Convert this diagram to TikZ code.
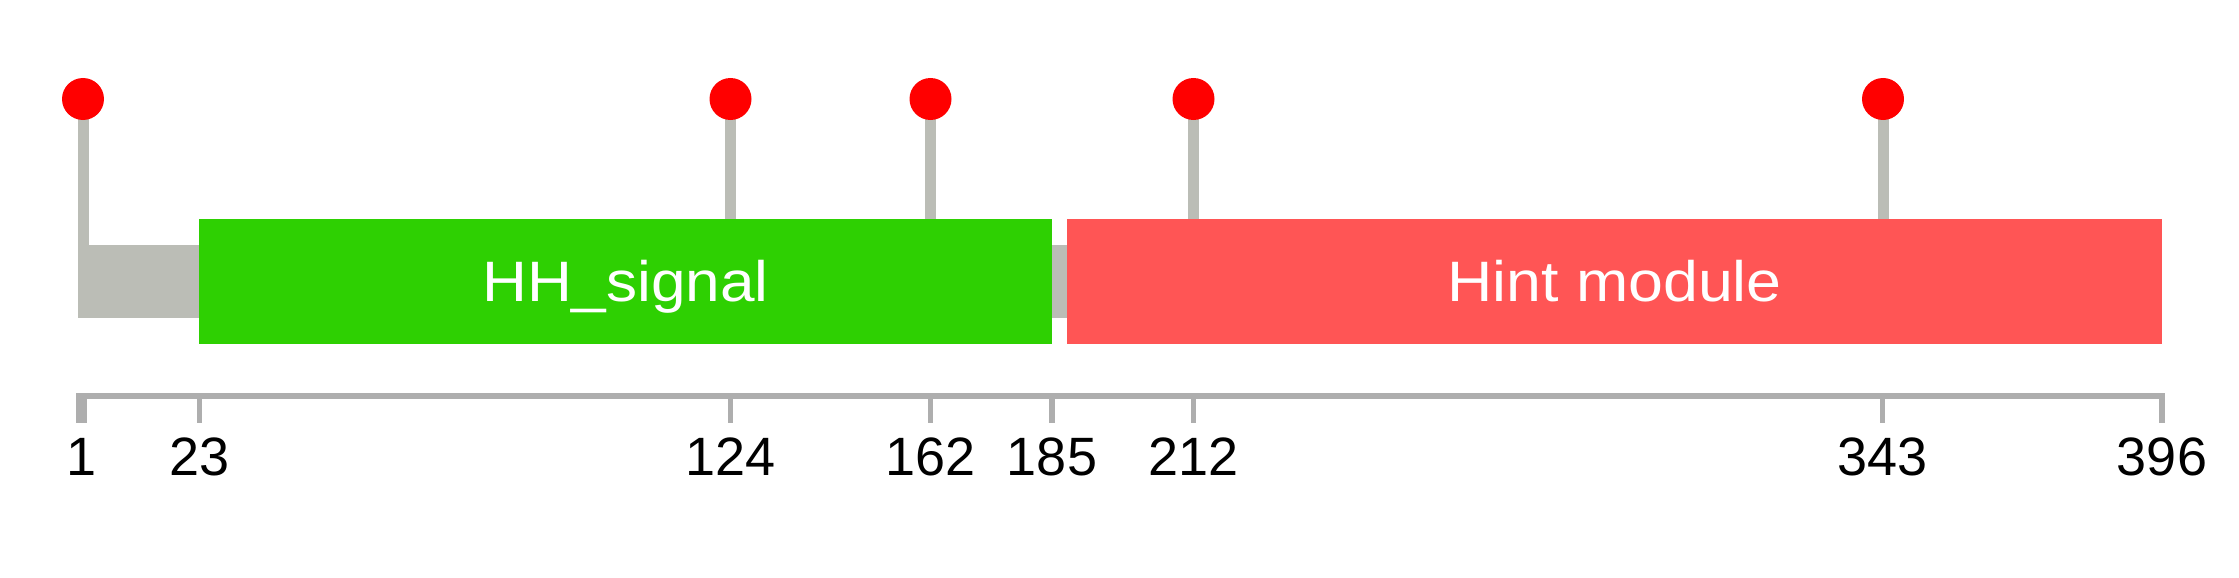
\documentclass[tikz,border=0pt]{standalone}
\usepackage{fontspec}
\setmainfont{Liberation Sans}
\definecolor{hhgreen}{RGB}{46,208,2}
\definecolor{hintred}{RGB}{255,85,85}
\definecolor{stickgray}{RGB}{187,189,182}
\definecolor{axisgray}{RGB}{174,174,174}
\definecolor{dotred}{RGB}{255,0,0}
\tikzset{
  dom/.style={draw=none, minimum height=125pt, inner sep=0pt, text=white,
    text height=41pt, text depth=0.6pt,
    font=\fontsize{57}{60}\selectfont},
  backbone/.style={fill=stickgray, draw=none, minimum height=73pt, inner sep=0pt},
  lolli/.style={circle, fill=dotred, draw=none, minimum size=42pt, inner sep=0pt},
  stick/.style={draw=stickgray, line width=11pt},
  axisline/.style={draw=axisgray, line width=5.3pt},
  tickmark/.style={draw=axisgray, line width=5.5pt},
  endtick/.style={draw=axisgray, line width=11pt},
  poslabel/.style={anchor=base, inner sep=0pt, font=\fontsize{54}{60}\selectfont}
}
\begin{document}
\begin{tikzpicture}[x=1pt,y=-1pt]
\useasboundingbox (0,0) rectangle (2239,578);
% backbone
\node[backbone, minimum width=2084pt] (bb) at (1120,281.5) {};
\coordinate (p1) at (83,99);
\coordinate (p124) at (730.5,99);
\coordinate (p162) at (930.5,99);
\coordinate (p212) at (1193.5,99);
\coordinate (p343) at (1883,99);
% domains
\node[dom, fill=hhgreen, minimum width=853pt] (hh) at (625.5,281.5) {\scalebox{1.09}[1]{HH\_signal}};
\node[dom, fill=hintred, minimum width=1095pt] (hint) at (1614.5,281.5) {\scalebox{1.1}[1]{Hint module}};
% sticks
\draw[stick] (p1) -- (p1 |- bb.north);
\draw[stick] (p124) -- (p124 |- hh.north);
\draw[stick] (p162) -- (p162 |- hh.north);
\draw[stick] (p212) -- (p212 |- hint.north);
\draw[stick] (p343) -- (p343 |- hint.north);
% lollipop heads
\node[lolli] (m1) at (p1) {};
\node[lolli] (m124) at (p124) {};
\node[lolli] (m162) at (p162) {};
\node[lolli] (m212) at (p212) {};
\node[lolli] (m343) at (p343) {};
% axis
\coordinate (axL) at (78,396);
\coordinate (axR) at (2162,396);
\draw[axisline] (axL) -- (axR);
\coordinate (a1) at (81.5,393);
\coordinate (a23) at (199.5,396);
\coordinate (a124) at (730.5,396);
\coordinate (a162) at (930.5,396);
\coordinate (a185) at (1052,396);
\coordinate (a212) at (1193.5,396);
\coordinate (a343) at (1882.5,396);
\coordinate (a396) at (2162,393);
\draw[endtick] (a1) -- ++(0,30);
\draw[tickmark] (a23) -- ++(0,27);
\draw[tickmark] (a124) -- ++(0,27);
\draw[tickmark] (a162) -- ++(0,27);
\draw[tickmark] (a185) -- ++(0,27);
\draw[tickmark] (a212) -- ++(0,27);
\draw[tickmark] (a343) -- ++(0,27);
\draw[tickmark] (a396) -- ++(0,30);
% labels
\node[poslabel] (l1) at (81.5,475) {1};
\node[poslabel] (l23) at (199.5,475) {23};
\node[poslabel] (l124) at (730.5,475) {124};
\node[poslabel] (l162) at (930.5,475) {162};
\node[poslabel] (l185) at (1052,475) {185};
\node[poslabel] (l212) at (1193.5,475) {212};
\node[poslabel] (l343) at (1882.5,475) {343};
\node[poslabel] (l396) at (2162,475) {396};
\end{tikzpicture}
\end{document}
